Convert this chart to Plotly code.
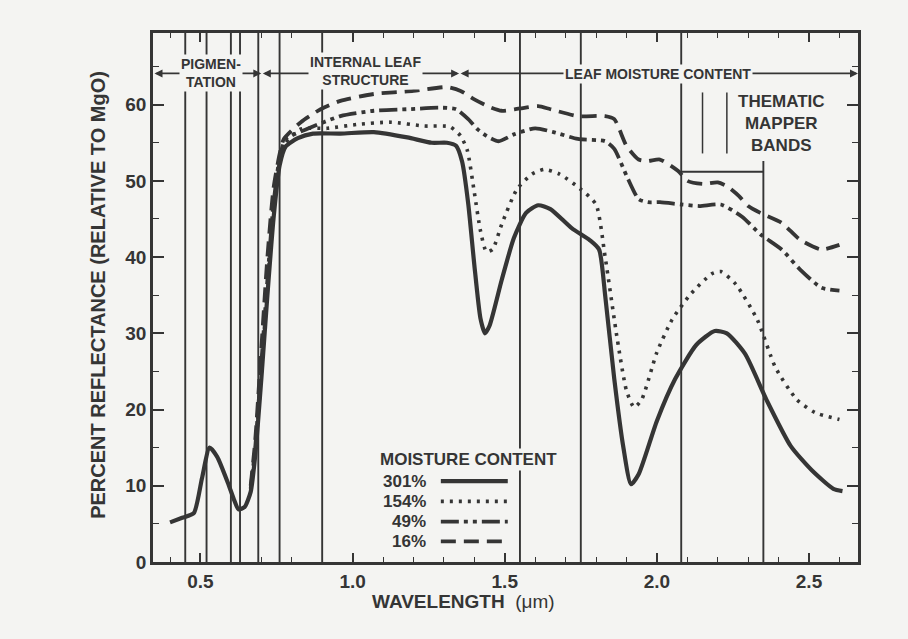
import plotly.graph_objects as go

# ---------------- data ----------------
wl_301 = [0.40, 0.44, 0.478, 0.505, 0.53, 0.555, 0.59, 0.61, 0.625, 0.645, 0.665, 0.68, 0.70, 0.72, 0.74,
          0.76, 0.78, 0.82, 0.87, 0.96, 1.07, 1.18, 1.26, 1.31, 1.34, 1.36, 1.38, 1.40, 1.42, 1.435,
          1.45, 1.49, 1.53, 1.57, 1.61, 1.65, 1.72, 1.78, 1.81, 1.83, 1.86, 1.89, 1.915, 1.94, 2.00,
          2.06, 2.13, 2.19, 2.23, 2.29, 2.36, 2.44, 2.51, 2.58, 2.61]
r_301 = [5.2, 5.8, 6.4, 11.0, 15.0, 13.8, 10.4, 8.2, 6.9, 7.2, 9.2, 14.0, 24.0, 35.0, 45.0,
         52.0, 54.5, 55.6, 56.2, 56.2, 56.4, 55.7, 55.0, 55.0, 54.6, 52.5, 47.0, 39.0, 32.0, 30.0,
         31.0, 37.0, 42.5, 45.8, 46.8, 46.3, 43.8, 42.2, 41.0, 35.0, 24.0, 15.0, 10.2, 11.5, 18.5,
         24.0, 28.5, 30.3, 30.0, 27.3, 21.3, 15.2, 12.0, 9.6, 9.3]

wl_154 = [0.665, 0.68, 0.70, 0.72, 0.74, 0.76, 0.78, 0.83, 0.917, 1.015, 1.125, 1.235, 1.32, 1.355,
          1.377, 1.40, 1.42, 1.44, 1.46, 1.49, 1.54, 1.59, 1.63, 1.68, 1.75, 1.80, 1.83, 1.87, 1.90,
          1.925, 1.95, 2.00, 2.05, 2.11, 2.18, 2.21, 2.26, 2.33, 2.39, 2.46, 2.52, 2.60]
r_154 = [9.4, 14.5, 25.0, 36.0, 46.0, 52.5, 55.0, 56.8, 56.9, 57.4, 57.7, 57.2, 57.1, 55.9,
         54.0, 48.5, 43.5, 40.7, 41.0, 44.3, 48.9, 50.9, 51.5, 50.9, 48.9, 46.9, 40.0, 29.2, 22.5,
         20.3, 21.3, 27.5, 31.8, 35.1, 37.8, 38.1, 36.4, 31.8, 25.5, 21.3, 19.6, 18.7]

wl_49 = [0.665, 0.68, 0.70, 0.72, 0.74, 0.76, 0.78, 0.85, 0.96, 1.07, 1.18, 1.29, 1.34, 1.38, 1.41,
         1.44, 1.48, 1.53, 1.60, 1.66, 1.74, 1.83, 1.86, 1.90, 1.94, 1.97, 2.01, 2.08, 2.14, 2.21,
         2.28, 2.34, 2.41, 2.47, 2.54, 2.60]
r_49 = [9.6, 15.0, 26.0, 37.0, 47.0, 53.0, 55.5, 56.8, 58.5, 59.2, 59.4, 59.6, 59.4, 58.1, 56.8,
        55.9, 55.2, 56.1, 56.9, 56.4, 55.5, 55.2, 54.2, 50.7, 47.6, 47.2, 47.2, 46.9, 46.7, 46.9,
        45.3, 43.0, 41.0, 38.4, 36.0, 35.6]

wl_16 = [0.665, 0.68, 0.70, 0.72, 0.74, 0.76, 0.774, 0.83, 0.895, 0.96, 1.07, 1.20, 1.31, 1.355,
         1.40, 1.45, 1.49, 1.55, 1.61, 1.65, 1.74, 1.83, 1.86, 1.90, 1.94, 1.97, 2.01, 2.07, 2.10,
         2.15, 2.20, 2.23, 2.27, 2.30, 2.34, 2.41, 2.47, 2.54, 2.60]
r_16 = [10.0, 16.0, 28.0, 40.0, 49.0, 53.5, 55.5, 57.7, 59.4, 60.5, 61.4, 61.8, 62.3, 61.8,
        60.7, 59.7, 59.2, 59.5, 59.8, 59.4, 58.5, 58.5, 58.1, 54.6, 52.8, 52.6, 52.8, 51.3, 50.0,
        49.6, 49.8, 49.3, 48.0, 46.7, 45.8, 44.5, 42.3, 41.0, 41.6]

series_names = ["301%", "154%", "49%", "16%"]
legend_title = "MOISTURE CONTENT"

# Thematic Mapper band edges (µm)
tm_edges = [0.45, 0.52, 0.60, 0.63, 0.69, 0.76, 0.90, 1.55, 1.75, 2.08]
tm7_right = 2.35
tm_marks = [2.15, 2.23]

# region boundaries of the top annotation arrows (µm)
regions = [0.344, 0.70, 1.35, 2.661]
region_labels = ["PIGMEN-<br>TATION", "INTERNAL LEAF<br>STRUCTURE", "LEAF MOISTURE CONTENT"]

x_ticks = [0.5, 1.0, 1.5, 2.0, 2.5]
x_ticktext = ["0.5", "1.0", "1.5", "2.0", "2.5"]
y_ticks = [0, 10, 20, 30, 40, 50, 60]

# ---------------- styling ----------------
INK = "#353535"
BG = "#f4f4f2"
FONT = "Liberation Sans"
dashes = {"301%": "solid", "154%": "3px,6px", "49%": "18px,5px,4px,5px,4px,5px", "16%": "15px,8px"}
widths = {"301%": 4.2, "154%": 3.6, "49%": 3.8, "16%": 3.8}

fig = go.Figure()
for name, xs, ys in zip(series_names, [wl_301, wl_154, wl_49, wl_16], [r_301, r_154, r_49, r_16]):
    fig.add_trace(go.Scatter(x=xs, y=ys, mode="lines", name=name, showlegend=False,
                             line=dict(color=INK, width=widths[name], dash=dashes[name], shape="spline",
                                       smoothing=0.6)))

shapes = []
for e in tm_edges:
    shapes.append(dict(type="line", xref="x", yref="y", x0=e, x1=e, y0=0, y1=69.4,
                       line=dict(color=INK, width=1.9), layer="below"))
shapes.append(dict(type="line", xref="x", yref="y", x0=tm7_right, x1=tm7_right, y0=0, y1=52.6,
                   line=dict(color=INK, width=1.9), layer="below"))
shapes.append(dict(type="line", xref="x", yref="y", x0=tm_edges[-1], x1=tm7_right, y0=51.2, y1=51.2,
                   line=dict(color=INK, width=1.9), layer="below"))
for m in tm_marks:
    shapes.append(dict(type="line", xref="x", yref="y", x0=m, x1=m, y0=53.6, y1=61.6,
                       line=dict(color=INK, width=1.5), layer="below"))

annotations = []
ARROW_Y = 64.1
for a, b in zip(regions[:-1], regions[1:]):
    annotations.append(dict(x=b, y=ARROW_Y, ax=a, ay=ARROW_Y, xref="x", yref="y", axref="x", ayref="y",
                            text="", showarrow=True, arrowhead=2, startarrowhead=2, arrowside="end+start",
                            arrowsize=1.0, arrowwidth=1.6, arrowcolor=INK, standoff=0, startstandoff=0))

lab_font = dict(family=FONT, size=14, color=INK, weight="bold")
annotations.append(dict(x=0.533, y=64.2, xref="x", yref="y", text=region_labels[0], showarrow=False,
                        font=lab_font, bgcolor=BG, borderpad=1, align="center"))
annotations.append(dict(x=1.043, y=64.4, xref="x", yref="y", text=region_labels[1], showarrow=False,
                        font=lab_font, bgcolor=BG, borderpad=1, align="center"))
annotations.append(dict(x=2.003, y=64.0, xref="x", yref="y", text=region_labels[2], showarrow=False,
                        font=lab_font, bgcolor=BG, borderpad=1))
annotations.append(dict(x=2.41, y=57.5, xref="x", yref="y", text="THEMATIC<br>MAPPER<br>BANDS",
                        showarrow=False, font=dict(family=FONT, size=17, color=INK, weight="bold"),
                        align="center"))

# legend (text, then a line sample)
leg_font = dict(family=FONT, size=17, color=INK, weight="bold")
annotations.append(dict(x=1.382, y=13.4, xref="x", yref="y", text=legend_title, showarrow=False,
                        font=leg_font, bgcolor=BG))
leg_y = [10.6, 7.95, 5.3, 2.7]
for name, yy in zip(series_names, leg_y):
    annotations.append(dict(x=1.248, y=yy, xref="x", yref="y", text=name, showarrow=False,
                            xanchor="right", font=leg_font, bgcolor=BG))
    shapes.append(dict(type="line", xref="x", yref="y", x0=1.29, x1=1.51, y0=yy, y1=yy,
                       line=dict(color=INK, width=widths[name], dash=dashes[name])))

# axis titles
annotations.append(dict(x=-0.078, y=0.505, xref="paper", yref="paper", textangle=-90,
                        xanchor="center", yanchor="middle",
                        text="PERCENT REFLECTANCE (RELATIVE TO MgO)", showarrow=False,
                        font=dict(family=FONT, size=20, color=INK, weight="bold")))
annotations.append(dict(x=0.44, y=-0.074, xref="paper", yref="paper", xanchor="center", yanchor="middle",
                        text="<b>WAVELENGTH</b>  (μm)", showarrow=False,
                        font=dict(family=FONT, size=19, color=INK)))

axis_common = dict(showline=True, linecolor=INK, linewidth=2.5, mirror="allticks", ticks="inside",
                   tickcolor=INK, tickwidth=1.6, showgrid=False, zeroline=False,
                   tickfont=dict(family=FONT, size=19, color=INK, weight="bold"))

fig.update_layout(
    width=908, height=639,
    margin=dict(l=153, r=50, t=33, b=77),
    paper_bgcolor=BG, plot_bgcolor=BG,
    shapes=shapes, annotations=annotations,
    xaxis=dict(range=[0.344, 2.661], tickvals=x_ticks, ticktext=x_ticktext, ticklen=9,
               minor=dict(ticks="inside", dtick=0.1, tick0=0, ticklen=5, tickcolor=INK, tickwidth=1.4),
               **axis_common),
    yaxis=dict(range=[0, 69.4], tickvals=y_ticks, ticklen=11,
               minor=dict(ticks="inside", dtick=5, tick0=0, ticklen=6, tickcolor=INK, tickwidth=1.4),
               **axis_common),
)

fig.write_html("out.html", config={"displayModeBar": False},
               post_script="document.body.style.margin='0';document.body.style.background='#f4f4f2';"
                           "document.body.style.overflow='hidden';")
